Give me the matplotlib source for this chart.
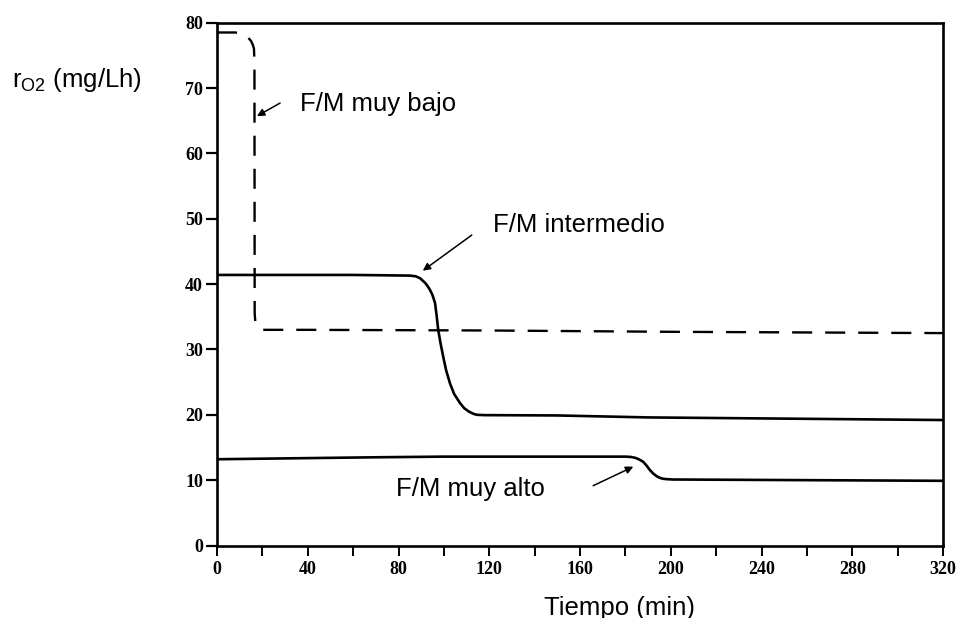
import matplotlib
matplotlib.use("Agg")
import matplotlib.pyplot as plt
from matplotlib.ticker import MultipleLocator

# ---- data ----
t_bajo = [0, 2, 8, 10, 12, 13.5, 15, 15.8, 16.3, 16.5, 16.6, 16.9, 17.5, 18.5, 21, 40, 120, 200, 320]
r_bajo = [78.5, 78.5, 78.5, 78.4, 78.2, 77.8, 77.2, 76.6, 76.0, 74.0, 35.5, 34.2, 33.6, 33.2, 33.0, 33.0, 32.9, 32.7, 32.5]

t_inter = [0, 60, 85, 87.5, 89.5, 91.7, 93.0, 93.9, 95.0, 96.1, 96.8, 97.5, 98.5, 99.7,
           101, 102.7, 104.5, 107.1, 109, 111, 113, 114.5, 118, 150, 190, 320]
r_inter = [41.4, 41.4, 41.3, 41.2, 40.9, 40.2, 39.6, 39.1, 38.3, 37.1, 35.2, 33.0, 31.0, 28.9,
           26.8, 24.8, 23.2, 21.8, 21.0, 20.5, 20.15, 20.0, 19.95, 19.9, 19.6, 19.2]

t_alto = [0, 70, 100, 180, 182.5, 184.5, 186.2, 187.9, 189.4, 190.8, 192.3, 193.8, 195.2,
          196.5, 198.2, 201, 260, 320]
r_alto = [13.2, 13.5, 13.6, 13.6, 13.55, 13.4, 13.15, 12.8, 12.2, 11.55, 11.0, 10.6, 10.35,
          10.22, 10.15, 10.1, 10.0, 9.9]

x_ticks = [0, 40, 80, 120, 160, 200, 240, 280, 320]
y_ticks = [0, 10, 20, 30, 40, 50, 60, 70, 80]

labels = ["F/M muy bajo", "F/M intermedio", "F/M muy alto"]
label_pos = [(36.6, 66.5), (121.6, 48.0), (78.9, 7.57)]
arrow_tail = [(27.8, 67.7), (112.3, 47.5), (165.8, 9.15)]
arrow_head = [(17.6, 65.7), (90.7, 42.05), (183.5, 12.06)]

# ---- figure ----
fig = plt.figure(figsize=(9.56, 6.18), dpi=100)
ax = fig.add_axes([0.227, 0.1173, 0.7594, 0.846])

ax.plot(t_bajo, r_bajo, color="black", lw=1.7, dashes=(8.5, 5.5), solid_capstyle="butt")
ax.plot(t_inter, r_inter, color="black", lw=1.9, solid_joinstyle="round")
ax.plot(t_alto, r_alto, color="black", lw=1.9, solid_joinstyle="round")

ax.set_xlim(0, 320)
ax.set_ylim(0, 80)
serif = ["Liberation Serif", "DejaVu Serif"]
ax.set_xticks(x_ticks)
ax.set_xticklabels([str(v) for v in x_ticks], fontfamily=serif, fontsize=13,
                   fontweight="bold")
ax.set_yticks(y_ticks)
ax.set_yticklabels([str(v) for v in y_ticks], fontfamily=serif, fontsize=13,
                   fontweight="bold")
ax.xaxis.set_minor_locator(MultipleLocator(20))

for sp in ax.spines.values():
    sp.set_linewidth(1.9)
    sp.set_color("black")

ax.tick_params(axis="y", which="major", direction="out", length=8, width=1.6, pad=2)
ax.tick_params(axis="x", which="both", direction="out", length=7, width=1.4, pad=4)

sans = ["Liberation Sans", "DejaVu Sans"]
for txt, pos, tail, head in zip(labels, label_pos, arrow_tail, arrow_head):
    ax.text(pos[0], pos[1], txt, ha="left", va="baseline", fontsize=18.5,
            family=sans, color="black")
    ax.annotate("", xy=head, xytext=tail,
                arrowprops=dict(arrowstyle="-|>", lw=1.1, color="black",
                                mutation_scale=11, shrinkA=0, shrinkB=0))

plt.rcParams["mathtext.default"] = "regular"
fig.text(0.0126, 0.859, r"$\mathregular{r_{O2}}$ (mg/Lh)", ha="left", va="baseline",
         fontsize=18.5, family=sans)
fig.text(0.6475, 0.005, "Tiempo (min)", ha="center", va="baseline",
         fontsize=18.5, family=sans)

fig.savefig("out.png", dpi=100)
